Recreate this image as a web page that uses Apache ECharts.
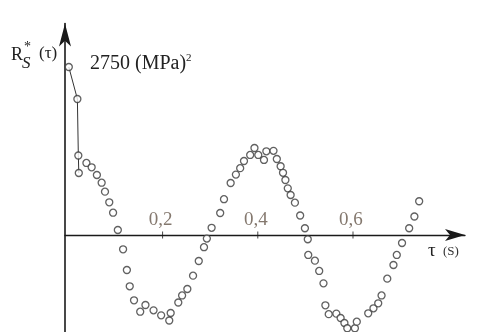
<!DOCTYPE html>
<html>
<head>
<meta charset="utf-8">
<script src="https://cdn.jsdelivr.net/npm/echarts@6/dist/echarts.min.js"></script>
<style>
  html, body { margin: 0; padding: 0; background: #fff; }
  #chart { width: 477px; height: 332px; }
</style>
</head>
<body>
<div id="chart"></div>
<script>
// lag tau (s) and estimated correlation R*S(tau) in (MPa)^2
const tauValues = [
  0.003, 0.021, 0.023, 0.024, 0.040, 0.051, 0.062, 0.072, 0.079, 0.088,
  0.096, 0.106, 0.117, 0.125, 0.131, 0.140, 0.153, 0.164, 0.181, 0.197,
  0.214, 0.217, 0.233, 0.241, 0.252, 0.264, 0.276, 0.287, 0.293, 0.303,
  0.321, 0.329, 0.343, 0.354, 0.363, 0.371, 0.384, 0.393, 0.401, 0.413,
  0.418, 0.433, 0.440, 0.448, 0.453, 0.458, 0.463, 0.469, 0.478, 0.489,
  0.499, 0.505, 0.506, 0.520, 0.529, 0.538, 0.542, 0.549, 0.565, 0.574,
  0.582, 0.588, 0.604, 0.608, 0.632, 0.643, 0.653, 0.660, 0.672, 0.685,
  0.692, 0.703, 0.718, 0.729, 0.739
];
const rValues = [
  2750, 2226, 1301, 1015, 1179, 1108, 982, 856, 709, 535,
  365, 82, -234, -573, -840, -1069, -1256, -1146, -1233, -1315,
  -1400, -1277, -1105, -990, -884, -666, -426, -200, -59, 118,
  360, 586, 851, 989, 1094, 1211, 1310, 1424, 1310, 1228,
  1370, 1378, 1244, 1125, 1018, 900, 764, 655, 529, 319,
  110, -70, -327, -420, -589, -791, -1151, -1296, -1287, -1359,
  -1441, -1527, -1527, -1419, -1282, -1200, -1118, -990, -715, -491,
  -327, -131, 110, 303, 552
];
// only the first few points are joined by a line
const linkedCount = 4;
const tickValues = [0.2, 0.4, 0.6];

const points = tauValues.map((t, i) => [t, rValues[i]]);

const chart = echarts.init(document.getElementById('chart'));
const serif = '"Liberation Serif", "DejaVu Serif", serif';
const axisColor = '#1a1a1a';

chart.setOption({
  animation: false,
  grid: { left: 65, right: 12, top: 23.5, bottom: 0 },
  xAxis: {
    type: 'value',
    min: -0.005,
    max: 0.8353,
    splitLine: { show: false },
    axisLine: {
      onZero: true,
      symbol: ['none', 'arrow'],
      symbolSize: [9, 20],
      lineStyle: { color: axisColor, width: 1.3 }
    },
    axisTick: { show: false },
    axisLabel: { show: false }
  },
  yAxis: {
    type: 'value',
    min: -1588,
    max: 3462,
    splitLine: { show: false },
    axisTick: { show: false },
    axisLabel: { show: false },
    axisLine: {
      onZero: false,
      symbol: ['none', 'arrow'],
      symbolSize: [9, 23],
      lineStyle: { color: axisColor, width: 1.6 }
    }
  },
  series: [
    {
      // tick marks crossing the time axis, with their labels above
      type: 'scatter',
      data: tickValues.map(t => [t, 0]),
      symbol: 'rect',
      symbolSize: [1, 7],
      itemStyle: { color: axisColor },
      label: {
        show: true,
        position: 'top',
        distance: 2,
        offset: [-2, 0],
        color: '#65564a',
        fontFamily: serif,
        fontSize: 19,
        formatter: p => p.value[0].toFixed(1).replace('.', ',')
      },
      silent: true,
      z: 1
    },
    {
      type: 'line',
      data: points.slice(0, linkedCount),
      showSymbol: false,
      lineStyle: { color: '#333', width: 1 },
      z: 2
    },
    {
      type: 'scatter',
      data: points,
      symbol: 'circle',
      symbolSize: 7,
      itemStyle: { color: '#fff', borderColor: '#3a3a3a', borderWidth: 1.3 },
      z: 3
    }
  ],
  graphic: [
    { type: 'text', left: 11, top: 46,
      style: { text: 'R', font: '18px ' + serif, fill: '#222' } },
    { type: 'text', left: 22, top: 55,
      style: { text: 'S', font: 'italic 17px ' + serif, fill: '#222' } },
    { type: 'text', left: 24, top: 40,
      style: { text: '*', font: '14px ' + serif, fill: '#222' } },
    { type: 'text', left: 39, top: 45,
      style: { text: '(τ)', font: '17px ' + serif, fill: '#222' } },
    { type: 'text', left: 90, top: 54,
      style: { text: '2750 (MPa)', font: '20px ' + serif, fill: '#222' } },
    { type: 'text', left: 186, top: 53,
      style: { text: '2', font: '11px ' + serif, fill: '#222' } },
    { type: 'text', left: 428, top: 242,
      style: { text: 'τ', font: '19px ' + serif, fill: '#222' } },
    { type: 'text', left: 443, top: 245,
      style: { text: '(S)', font: '13px ' + serif, fill: '#333' } }
  ]
});
</script>
</body>
</html>
